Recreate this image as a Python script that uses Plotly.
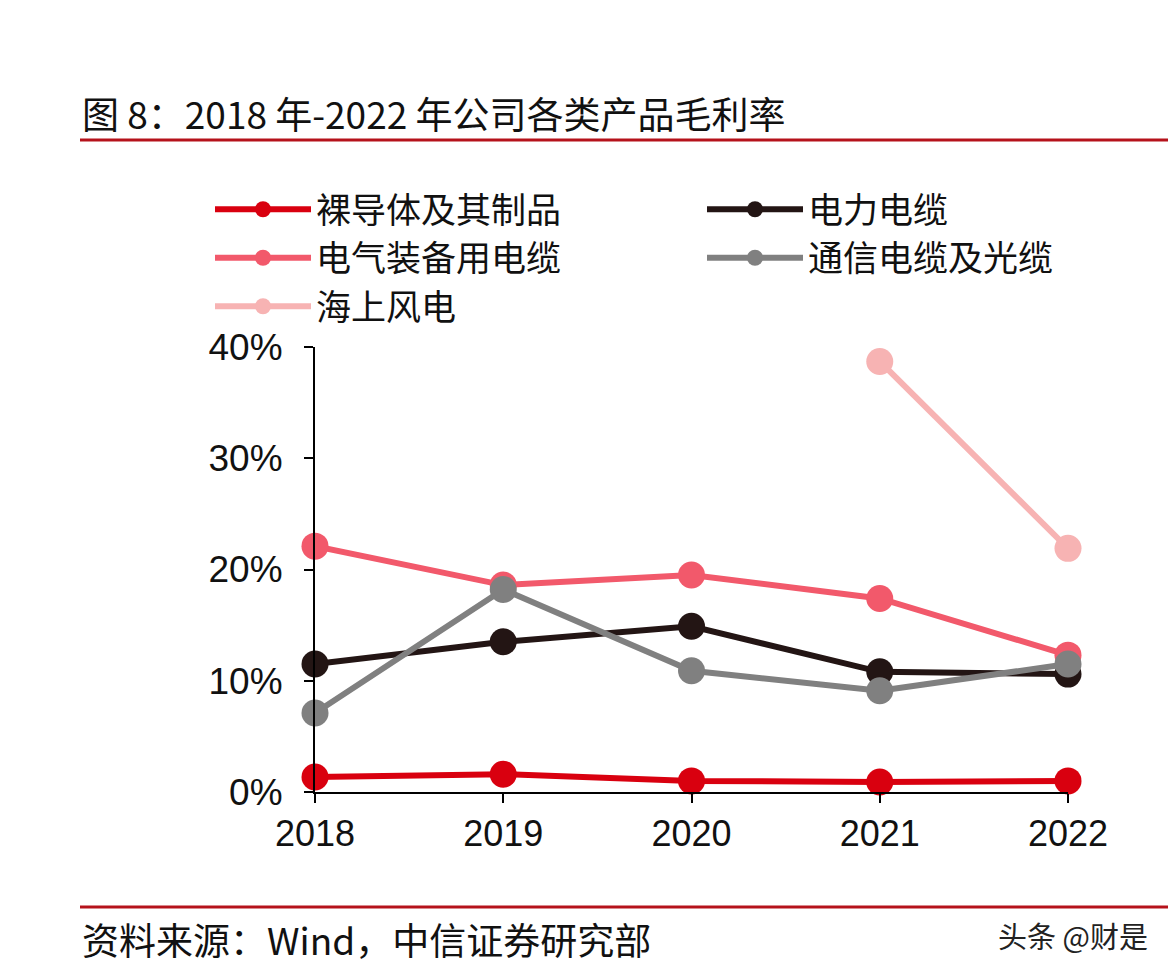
import plotly.graph_objects as go

years = ["2018", "2019", "2020", "2021", "2022"]
bare_conductor = [1.35, 1.6, 1.0, 0.9, 1.0]
power_cable = [11.5, 13.5, 14.9, 10.8, 10.6]
equipment_cable = [22.1, 18.6, 19.5, 17.4, 12.3]
telecom_cable = [7.1, 18.2, 10.9, 9.1, 11.5]
offshore_wind = [None, None, None, 38.7, 21.9]

series_names = ["裸导体及其制品", "电力电缆", "电气装备用电缆", "通信电缆及光缆", "海上风电"]
series_values = [bare_conductor, power_cable, equipment_cable, telecom_cable, offshore_wind]
series_colors = ["#d9000f", "#231514", "#f2596b", "#808080", "#f7b3b3"]
legend_column = ["legend", "legend2", "legend", "legend2", "legend"]

y_ticks = [0, 10, 20, 30, 40]
y_ticktext = ["0%", "10%", "20%", "30%", "40%"]

OFF = 8  # page body margin
W, H = 1176 - 2 * OFF, 976 - 2 * OFF
L, T = 315 - OFF, 347 - OFF
PW, PH = 753, 445
R, B = W - L - PW, H - T - PH


def px_x(px):
    return (px - OFF - L) / PW


def px_y(py):
    return (T + PH - (py - OFF)) / PH


CJK = "Noto Sans CJK SC, Liberation Sans, sans-serif"
NUM = "Liberation Sans, Arial, sans-serif"

fig = go.Figure()
for name, vals, col, lg in zip(series_names, series_values, series_colors, legend_column):
    fig.add_trace(go.Scatter(
        x=years, y=vals, name=name, mode="lines+markers",
        line=dict(color=col, width=6),
        marker=dict(color=col, size=27),
        cliponaxis=False, connectgaps=False, legend=lg,
    ))

legend_style = dict(
    orientation="v", xanchor="left", yanchor="top",
    font=dict(family=CJK, size=35, color="#111111"),
    itemwidth=96, tracegroupgap=0, traceorder="normal",
    bgcolor="rgba(0,0,0,0)",
)

fig.update_layout(
    width=W, height=H,
    margin=dict(l=L, r=R, t=T, b=B),
    paper_bgcolor="white", plot_bgcolor="white",
    showlegend=True,
    legend=dict(x=px_x(210), y=px_y(180), **legend_style),
    legend2=dict(x=px_x(702), y=px_y(180), **legend_style),
    xaxis=dict(
        type="category", range=[0, 4], showgrid=False, zeroline=False,
        showline=True, linecolor="#000000", linewidth=2,
        ticks="outside", ticklen=9, tickwidth=2, tickcolor="#000000",
        tickfont=dict(family=NUM, size=36, color="#111111"),
    ),
    yaxis=dict(
        range=[0, 40], tickvals=y_ticks, ticktext=y_ticktext,
        showgrid=False, zeroline=False,
        showline=True, linecolor="#000000", linewidth=2,
        ticks="outside", ticklen=9, tickwidth=2, tickcolor="#000000",
        ticklabelstandoff=14,
        tickfont=dict(family=NUM, size=37, color="#111111"),
    ),
)

annotations = [
    dict(text="图 8：2018 年-2022 年公司各类产品毛利率", x=px_x(80), y=px_y(113),
         xanchor="left", yanchor="middle", font=dict(family=CJK, size=37, color="#111111")),
    dict(text="资料来源：Wind，中信证券研究部", x=px_x(80), y=px_y(939),
         xanchor="left", yanchor="middle", font=dict(family=CJK, size=37, color="#111111")),
    dict(text="头条 @财是", x=px_x(1150), y=px_y(935),
         xanchor="right", yanchor="middle", font=dict(family=CJK, size=29, color="#222222")),
]
for a in annotations:
    a.update(xref="paper", yref="paper", showarrow=False)
fig.update_layout(annotations=annotations)

fig.update_layout(shapes=[
    dict(type="line", xref="paper", yref="paper", x0=px_x(80), x1=px_x(1176),
         y0=px_y(140), y1=px_y(140), line=dict(color="#b5121b", width=3)),
    dict(type="line", xref="paper", yref="paper", x0=px_x(80), x1=px_x(1176),
         y0=px_y(907), y1=px_y(907), line=dict(color="#b5121b", width=3)),
])

fig.write_html("out.html")
